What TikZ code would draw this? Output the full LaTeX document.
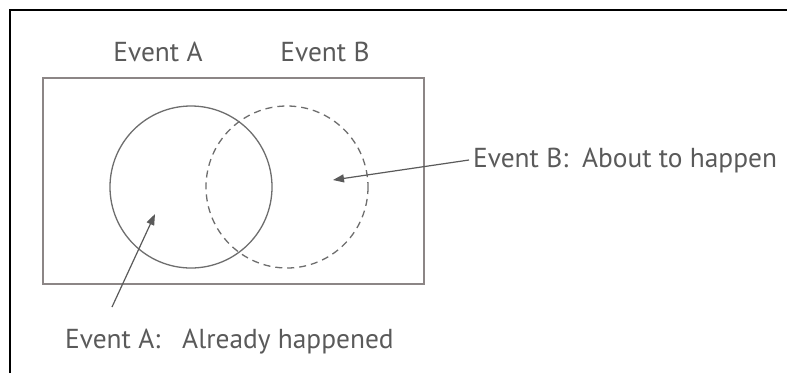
\documentclass[tikz,border=0pt]{standalone}
\usepackage{fontspec}
\setmainfont{PT Sans}
\usetikzlibrary{arrows.meta}
\definecolor{inkgray}{HTML}{5A5A5A}
\definecolor{linegray}{HTML}{6E6E6E}
\definecolor{boxgray}{HTML}{8C8686}
\tikzset{
  label text/.style={text=inkgray, font=\fontsize{27.5}{31}\selectfont, inner sep=0pt},
  setA/.style={draw=linegray, line width=1.3bp},
  setB/.style={draw=linegray, line width=1.3bp, dash pattern=on 7bp off 5bp},
  pointer/.style={draw=inkgray, line width=1.2bp, -{Triangle[length=11bp, width=8bp]}}
}
\begin{document}
\begin{tikzpicture}[x=1bp, y=-1bp]
  % canvas and frame (top and left edges only)
  \useasboundingbox (0,0) rectangle (787,373);
  \fill[white] (0,0) rectangle (787,373);
  \draw[black, line width=2.6bp] (10,373) -- (10,10) -- (787,10);

  % universe box
  \draw[boxgray, line width=1.5bp] (43,78) rectangle (424,284);

  % the two events
  \draw[setA] (191,187) circle[radius=81];
  \draw[setB] (287,187) circle[radius=81];

  % headings
  \node[label text] (hA) at (158,52) {Event A};
  \node[label text] (hB) at (325,52) {Event B};

  % annotations
  \node[label text, anchor=west] (nB) at (473,160) {Event B:\hspace{0.5em}About to happen};
  \node[label text, anchor=west] (nA) at (65,342) {Event A:\hspace{0.8em}Already happened};

  \coordinate (tipB) at (333,180);
  \coordinate (tipA) at (155,214);
  \coordinate (tailA) at (112,307);
  \draw[pointer] ([xshift=-4bp]nB.west) -- (tipB);
  \draw[pointer] (tailA) -- (tipA);
\end{tikzpicture}
\end{document}
